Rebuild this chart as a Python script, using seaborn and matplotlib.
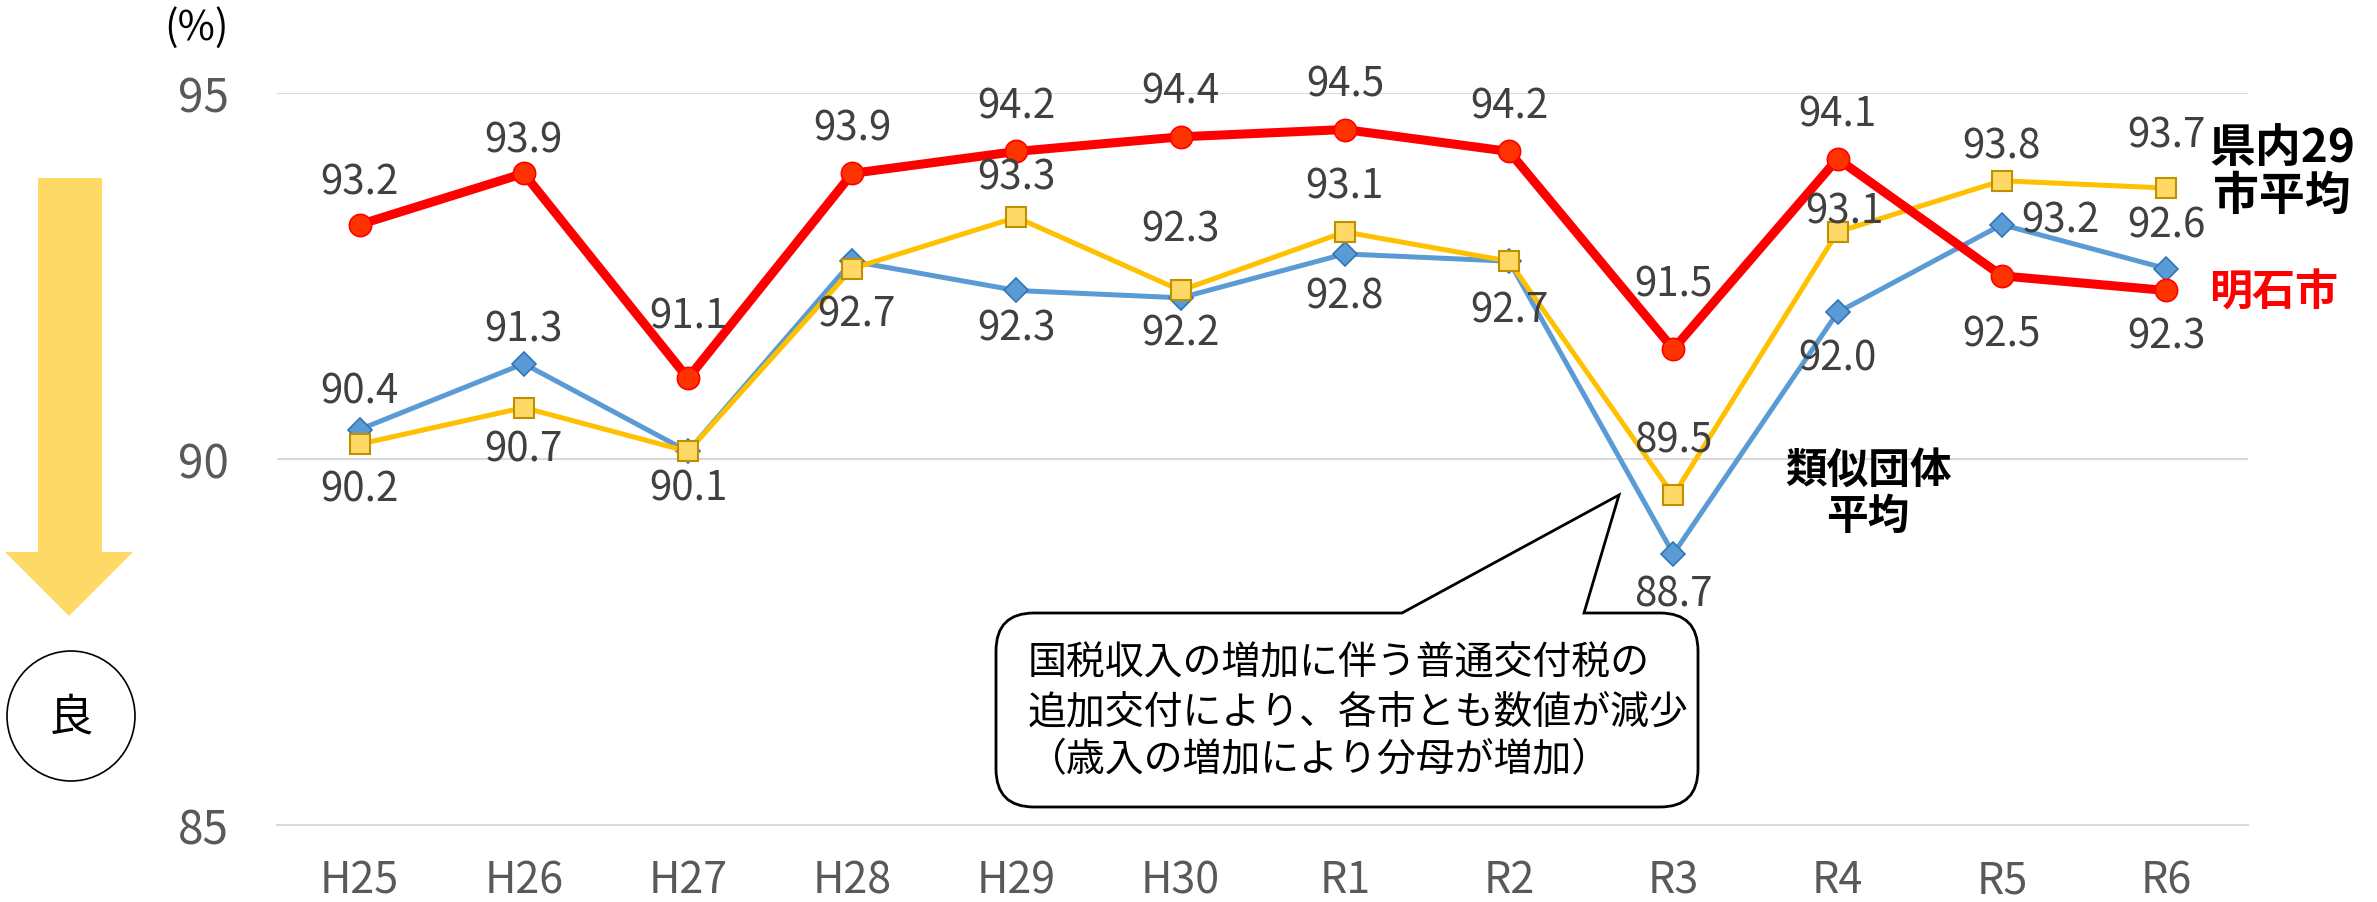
import numpy as np
import pandas as pd
import seaborn as sns
import matplotlib.pyplot as plt
from matplotlib.path import Path
from matplotlib.patches import PathPatch, Polygon, Ellipse
from matplotlib.transforms import Affine2D

# データ
years = ["H25", "H26", "H27", "H28", "H29", "H30", "R1", "R2", "R3", "R4", "R5", "R6"]
akashi = [93.2, 93.9, 91.1, 93.9, 94.2, 94.4, 94.5, 94.2, 91.5, 94.1, 92.5, 92.3]
kennai = [90.2, 90.7, 90.1, 92.6, 93.3, 92.3, 93.1, 92.7, 89.5, 93.1, 93.8, 93.7]
ruiji = [90.4, 91.3, 90.1, 92.7, 92.3, 92.2, 92.8, 92.7, 88.7, 92.0, 93.2, 92.6]

W, H = 2377, 903
sns.set_theme(style="white")
plt.rcParams["font.family"] = ["Noto Sans CJK JP", "DejaVu Sans"]

fig = plt.figure(figsize=(W / 100, H / 100), dpi=100)
ax = fig.add_axes([0.1167, 0.0856, 0.8291, 0.8104])

x = np.arange(len(years))
df = pd.DataFrame({"x": x, "akashi": akashi, "kennai": kennai, "ruiji": ruiji})

sns.lineplot(data=df, x="x", y="ruiji", ax=ax, color="#5B9BD5", linewidth=3.6,
             marker="D", markersize=12, markerfacecolor="#5B9BD5",
             markeredgecolor="#2E75B6", markeredgewidth=1.2, zorder=3)
sns.lineplot(data=df, x="x", y="kennai", ax=ax, color="#FFC000", linewidth=3.6,
             marker="s", markersize=14, markerfacecolor="#FFD966",
             markeredgecolor="#BF9000", markeredgewidth=1.5, zorder=4)
sns.lineplot(data=df, x="x", y="akashi", ax=ax, color="#FF0000", linewidth=6.5,
             marker="o", markersize=16, markerfacecolor="#FF3300",
             markeredgecolor="#FF0000", markeredgewidth=1.2, zorder=5)

# データラベル (オフセットはポイント単位, None = 非表示)
off_akashi = [(0, 31), (0, 24), (0, 45), (0, 33), (0, 33), (0, 33), (0, 33), (0, 33),
              (0, 47), (0, 32), (0, -42), (0, -33)]
off_kennai = [(0, -32), (0, -30), (0, -26), None, (0, 29), (0, 44), (0, 33), None,
              (0, 40), (5, 15), (0, 25), (0, 38)]
off_ruiji = [(0, 28), (0, 25), None, (3, -38), (0, -27), (0, -25), (0, -30), (0, -35),
             (0, -29), (0, -33), (42, 3), (0, 31)]

for vals, offs in [(akashi, off_akashi), (kennai, off_kennai), (ruiji, off_ruiji)]:
    for i, (v, o) in enumerate(zip(vals, offs)):
        if o is None:
            continue
        ax.annotate(f"{v:.1f}", (x[i], v), xytext=o, textcoords="offset points",
                    ha="center", va="center", fontsize=29, color="#404040",
                    annotation_clip=False, zorder=6)

ax.set_xlim(-0.5, len(years) - 0.5)
ax.set_ylim(85, 95)
ax.set_yticks([85, 90, 95])
ax.set_yticklabels(["85", "90", "95"])
ax.set_xticks(x)
ax.set_xticklabels(years)
ax.set_xticks(np.arange(-0.5, len(years)), minor=True)
ax.set_xlabel("")
ax.set_ylabel("")
for s in ["top", "right", "left"]:
    ax.spines[s].set_visible(False)
ax.spines["bottom"].set_color("#D9D9D9")
ax.spines["bottom"].set_linewidth(1.5)
for yv in [90, 95]:
    ax.axhline(yv, color="#D9D9D9", linewidth=1.5, zorder=1)
ax.tick_params(axis="y", length=0, pad=35, labelsize=33, labelcolor="#595959")
ax.tick_params(axis="x", which="major", length=0, pad=24, labelsize=31, labelcolor="#595959")
ax.tick_params(axis="x", which="minor", length=11, width=1.5, color="#D9D9D9", direction="out")

# ピクセル座標 (上端原点) 用の変換
px = Affine2D().scale(1 / W, -1 / H).translate(0, 1) + fig.transFigure

fig.text(196, 28, "(%)", transform=px, ha="center", va="center", fontsize=29, color="black")

# 系列名
fig.text(2282, 173, "県内29\n市平均", transform=px, ha="center", va="center",
         fontsize=33, fontweight="bold", color="black", linespacing=1.05)
fig.text(2274, 293, "明石市", transform=px, ha="center", va="center",
         fontsize=31, fontweight="bold", color="#FF0000")
fig.text(1868, 494, "類似団体\n平均", transform=px, ha="center", va="center",
         fontsize=30, fontweight="bold", color="black", linespacing=1.1)

# 矢印と「良」
arrow = Polygon([(38, 179), (102, 179), (102, 553), (133, 553), (69, 617),
                 (5, 553), (38, 553)], closed=True, transform=px,
                facecolor="#FFD966", edgecolor="none")
fig.add_artist(arrow)
fig.add_artist(Ellipse((71, 717), 128, 130, transform=px, facecolor="white",
                       edgecolor="black", linewidth=1.2))
fig.text(71, 717, "良", transform=px, ha="center", va="center", fontsize=32, color="black")

# 吹き出し
x0, x1, y0, y1, r = 996, 1698, 614, 808, 38
xa, xb, tip = 1402, 1584, (1619, 496)
verts = [(x0 + r, y0), (xa, y0), tip, (xb, y0), (x1 - r, y0),
         (x1, y0), (x1, y0 + r), (x1, y1 - r), (x1, y1), (x1 - r, y1),
         (x0 + r, y1), (x0, y1), (x0, y1 - r), (x0, y0 + r), (x0, y0), (x0 + r, y0),
         (x0 + r, y0)]
codes = [Path.MOVETO, Path.LINETO, Path.LINETO, Path.LINETO, Path.LINETO,
         Path.CURVE3, Path.CURVE3, Path.LINETO, Path.CURVE3, Path.CURVE3,
         Path.LINETO, Path.CURVE3, Path.CURVE3, Path.LINETO, Path.CURVE3, Path.CURVE3,
         Path.CLOSEPOLY]
fig.add_artist(PathPatch(Path(verts, codes), transform=px, facecolor="white",
                         edgecolor="black", linewidth=2, zorder=7))
fig.text(1028, 712, "国税収入の増加に伴う普通交付税の\n追加交付により、各市とも数値が減少\n（歳入の増加により分母が増加）",
         transform=px, ha="left", va="center", fontsize=28, color="black",
         linespacing=1.28, zorder=8)

fig.savefig("out.png", dpi=100)
